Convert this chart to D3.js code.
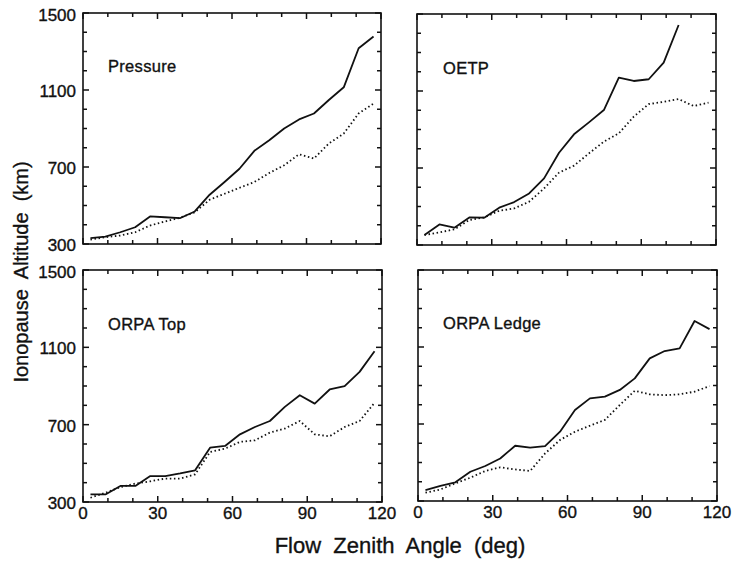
<!DOCTYPE html>
<html><head><meta charset="utf-8">
<script src="https://cdn.jsdelivr.net/npm/d3@7"></script>
<style>body{margin:0;background:#fff}svg{display:block}text{font-family:"Liberation Sans",Arial,sans-serif;fill:#111;stroke:#111;stroke-width:0.35px}</style>
</head><body><svg id="c" width="736" height="563"></svg>
<script>
const angles = [3,9,15,21,27,33,39,45,51,57,63,69,75,81,87,93,99,105,111,117];
const panelNames = ["Pressure","OETP","ORPA Top","ORPA Ledge"];
const pressureSolid = [331,338,361,387,443,439,434,469,556,622,691,784,839,900,947,978,1048,1114,1317,1378];
const pressureDotted = [323,335,344,361,396,417,436,465,530,561,592,622,669,709,766,744,822,874,978,1030];
const oetpSolid = [352,407,390,443,442,494,523,568,646,779,875,937,1001,1169,1152,1161,1247,1443];
const oetpDotted = [352,366,381,430,443,478,490,525,594,676,712,776,837,880,967,1032,1044,1058,1022,1039];
const orpaTopSolid = [339,339,383,383,434,434,448,464,581,590,650,688,719,792,852,809,882,899,973,1080];
const orpaTopDotted = [322,348,377,395,407,421,421,443,559,576,611,619,659,680,719,650,640,688,719,813];
const orpaLedgeSolid = [357,379,397,452,482,521,587,577,585,660,773,833,842,877,937,1041,1079,1093,1235,1193];
const orpaLedgeDotted = [343,360,392,421,456,475,464,456,547,617,660,691,721,799,873,854,850,854,868,897];
const xTickLabels = [0,30,60,90,120];
const yTickLabels = [300,700,1100,1500];
const xTitle = "Flow  Zenith  Angle  (deg)";
const yTitle = "Ionopause  Altitude  (km)";

const series = [
  {solid: pressureSolid, dotted: pressureDotted},
  {solid: oetpSolid, dotted: oetpDotted},
  {solid: orpaTopSolid, dotted: orpaTopDotted},
  {solid: orpaLedgeSolid, dotted: orpaLedgeDotted}
];
const boxes = [
  {x0:83, x1:381, y0:13, y1:244, lx:108, ly:72},
  {x0:417, x1:716, y0:14, y1:245, lx:443, ly:74},
  {x0:83, x1:382, y0:270, y1:502, lx:108, ly:330},
  {x0:418, x1:717, y0:270, y1:501, lx:443, ly:329}
];
const svg = d3.select("#c");
boxes.forEach((b,i)=>{
  const x = d3.scaleLinear().domain([0,120]).range([b.x0,b.x1]);
  const y = d3.scaleLinear().domain([300,1500]).range([b.y1,b.y0]);
  const g = svg.append("g");
  const xt = d3.range(0,121,10), yt = d3.range(300,1501,100);
  const tk = g.append("g").attr("stroke","#111").attr("stroke-width",1.5);
  xt.forEach(v=>{
    const L = v%30===0 ? 6 : 4;
    tk.append("line").attr("x1",x(v)).attr("x2",x(v)).attr("y1",b.y1).attr("y2",b.y1-L);
    tk.append("line").attr("x1",x(v)).attr("x2",x(v)).attr("y1",b.y0).attr("y2",b.y0+L);
  });
  yt.forEach(v=>{
    const L = (v-300)%400===0 ? 6 : 4;
    tk.append("line").attr("y1",y(v)).attr("y2",y(v)).attr("x1",b.x0).attr("x2",b.x0+L);
    tk.append("line").attr("y1",y(v)).attr("y2",y(v)).attr("x1",b.x1).attr("x2",b.x1-L);
  });
  g.append("rect").attr("x",b.x0).attr("y",b.y0).attr("width",b.x1-b.x0).attr("height",b.y1-b.y0)
    .attr("fill","none").attr("stroke","#111").attr("stroke-width",1.6);
  if(i>=2){
    g.selectAll(".xl").data(xTickLabels).enter().append("text")
      .attr("x",d=>x(d)).attr("y",b.y1+17).attr("text-anchor","middle")
      .attr("font-size",17).text(d=>d);
  }
  if(i%2===0){
    g.selectAll(".yl").data(yTickLabels).enter().append("text")
      .attr("x",b.x0-7).attr("y",d=>y(d)+(d===1500?8:7)).attr("text-anchor","end")
      .attr("font-size",17).text(d=>d);
  }
  const s = series[i];
  const line = d3.line().x((d,j)=>x(angles[j])).y(d=>y(d));
  g.append("path").datum(s.solid).attr("d",line).attr("fill","none").attr("stroke","#111").attr("stroke-width",1.8).attr("stroke-linejoin","round");
  g.append("path").datum(s.dotted).attr("d",line).attr("fill","none").attr("stroke","#111").attr("stroke-width",1.8).attr("stroke-dasharray","1.5,2.6");
  g.append("text").attr("x",b.lx).attr("y",b.ly).attr("font-size",16.5).attr("letter-spacing",0.3).text(panelNames[i]);
});
svg.append("text").attr("x",400).attr("y",553).attr("text-anchor","middle").attr("font-size",22).style("white-space","pre").text(xTitle);
svg.append("text").attr("transform","translate(28,272) rotate(-90)").attr("text-anchor","middle").attr("font-size",20).style("white-space","pre").text(yTitle);
</script></body></html>
